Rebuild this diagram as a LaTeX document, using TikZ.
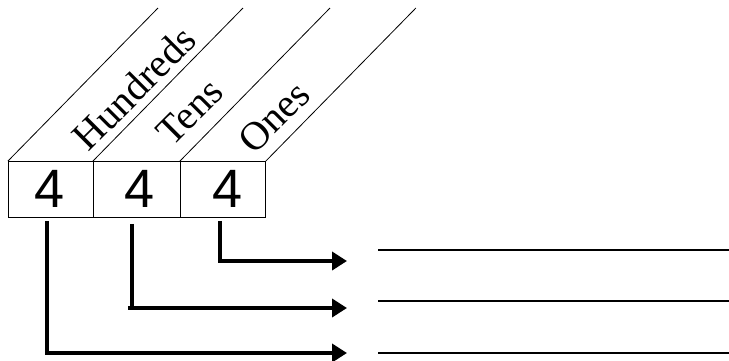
\documentclass[tikz,border=0pt]{standalone}
\usepackage{fontspec}
\setmainfont{Liberation Serif}
\newfontfamily\digitfont{Liberation Sans}
\usetikzlibrary{arrows.meta}
\begin{document}
\begin{tikzpicture}[x=1pt,y=-1pt,
  cell/.style={draw, line width=0.9pt, minimum height=56pt, inner sep=0pt, anchor=north west},
  diag/.style={line width=0.8pt},
  lbl/.style={rotate=45, font=\fontsize{40}{44}\selectfont, inner sep=0pt},
  digit/.style={font=\digitfont\fontsize{54}{58}\selectfont, inner sep=0pt},
  conn/.style={line width=4pt},
  arr/.style={line width=4pt, -{Triangle[length=15pt,width=18pt]}},
  blank/.style={line width=2pt}]
\path[use as bounding box] (0,0) rectangle (729,360);
% cells
\node[cell, minimum width=85pt] (b1) at (8,161) {};
\node[cell, minimum width=87pt] (b2) at (93,161) {};
\node[cell, minimum width=85pt] (b3) at (180,161) {};
% digits
\node[digit] (d1) at (50,189) {4};
\node[digit] (d2) at (140,189) {4};
\node[digit] (d3) at (228,189) {4};
% diagonal lines
\draw[diag] (b1.north west) -- ++(150,-153);
\draw[diag] (b2.north west) -- ++(150,-153);
\draw[diag] (b3.north west) -- ++(150,-153);
\draw[diag] (b3.north east) -- ++(150,-153);
% labels
\node[lbl] (hun) at (134,88) {Hundreds};
\node[lbl] (ten) at (190,112) {Tens};
\node[lbl] (one) at (274,117) {Ones};
% answer lines
\coordinate (l1a) at (378,250); \coordinate (l1b) at (729,250);
\coordinate (l2a) at (378,301); \coordinate (l2b) at (729,301);
\coordinate (l3a) at (378,353); \coordinate (l3b) at (729,353);
\draw[blank] (l1a) -- (l1b);
\draw[blank] (l2a) -- (l2b);
\draw[blank] (l3a) -- (l3b);
% arrow tips
\coordinate (t1) at (347,261);
\coordinate (t2) at (347,308);
\coordinate (t3) at (347,353);
% connectors
\draw[arr] ([xshift=-2.5pt,yshift=-3pt]b3.south) |- (t1);
\draw[conn] ([xshift=-4.5pt,yshift=-6pt]b2.south) -- ++(0,83);
\draw[arr] (128,308) -- (t2);
\draw[arr] ([xshift=-3.5pt,yshift=-3pt]b1.south) |- (t3);
\end{tikzpicture}
\end{document}
